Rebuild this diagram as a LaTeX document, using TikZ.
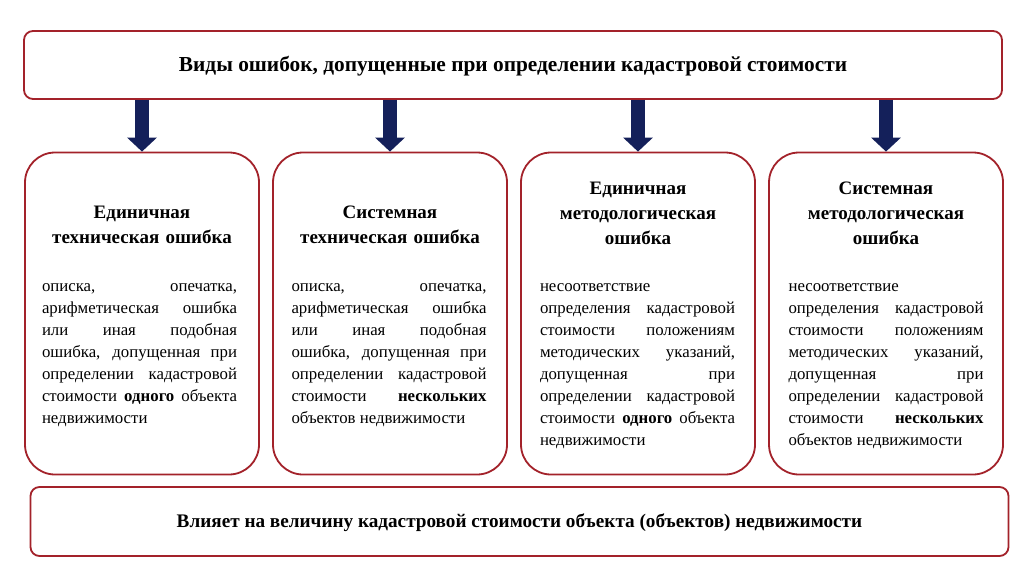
\documentclass[tikz,border=0pt]{standalone}
\usepackage{fontspec}
\setmainfont{Liberation Serif}
\usetikzlibrary{arrows.meta}
\definecolor{bordred}{HTML}{A3222A}
\definecolor{navy}{HTML}{14205A}
\begin{document}
\begin{tikzpicture}[x=1pt,y=-1pt,
  frame/.style={draw=bordred,line width=1.8pt,fill=white},
  bigbox/.style={frame,rounded corners=9pt,inner sep=0pt},
  cardbox/.style={frame,rounded corners=30pt,minimum width=234pt,minimum height=322pt,inner sep=0pt},
  headtxt/.style={anchor=north,inner sep=0pt,text width=220pt,align=center,font=\fontsize{19}{25}\selectfont\bfseries},
  bodytxt/.style={anchor=north,inner sep=0pt,text width=195pt,align=justify,font=\fontsize{16.8}{22.1}\selectfont},
  bigtxt/.style={anchor=base,inner sep=0pt,font=\bfseries},
  downarrow/.style={draw=navy,line width=14pt,-{Triangle[width=29pt,length=14pt]},fill=navy}
]
\useasboundingbox (0,0) rectangle (1024,574);
\fill[white] (0,0) rectangle (1024,574);

\node[bigbox,minimum width=978pt,minimum height=68pt] (top) at (513,65) {};
\node[bigtxt,font=\fontsize{21.35}{24}\selectfont\bfseries] (toptxt) at (513,71.5)
  {Виды ошибок, допущенные при определении кадастровой стоимости};

\node[cardbox] (b1) at (142,313.5) {};
\node[cardbox] (b2) at (390,313.5) {};
\node[cardbox] (b3) at (638,313.5) {};
\node[cardbox] (b4) at (886,313.5) {};

\foreach \b in {b1,b2,b3,b4}
  \draw[downarrow] (top.south -| \b.north) -- (\b.north);

\node[headtxt] (h1) at (142,200.5) {\strut Единичная\\техническая ошибка};
\node[headtxt] (h2) at (390,200.5) {\strut Системная\\техническая ошибка};
\node[headtxt] (h3) at (638,176.5) {\strut Единичная\\методологическая\\ошибка};
\node[headtxt] (h4) at (886,176.5) {\strut Системная\\методологическая\\ошибка};

\node[bodytxt] (t1) at (139.5,275.5) {\strut описка, опечатка,\linebreak арифметическая ошибка\linebreak или иная подобная\linebreak ошибка, допущенная при\linebreak определении кадастровой\linebreak стоимости \textbf{одного} объекта\linebreak недвижимости};
\node[bodytxt] (t2) at (389,275.5) {\strut описка, опечатка,\linebreak арифметическая ошибка\linebreak или иная подобная\linebreak ошибка, допущенная при\linebreak определении кадастровой\linebreak стоимости \textbf{нескольких}\linebreak объектов недвижимости};
\node[bodytxt] (t3) at (637.5,275.5) {\strut несоответствие\newline определения кадастровой\linebreak стоимости положениям\linebreak методических указаний,\linebreak допущенная при\linebreak определении кадастровой\linebreak стоимости \textbf{одного} объекта\linebreak недвижимости};
\node[bodytxt] (t4) at (886,275.5) {\strut несоответствие\newline определения кадастровой\linebreak стоимости положениям\linebreak методических указаний,\linebreak допущенная при\linebreak определении кадастровой\linebreak стоимости \textbf{нескольких}\linebreak объектов недвижимости};

\node[bigbox,minimum width=978pt,minimum height=69pt] (bot) at (519.5,521.5) {};
\node[bigtxt,font=\fontsize{19.2}{22}\selectfont\bfseries] (bottxt) at (519.5,527)
  {Влияет на величину кадастровой стоимости объекта (объектов) недвижимости};
\end{tikzpicture}
\end{document}
